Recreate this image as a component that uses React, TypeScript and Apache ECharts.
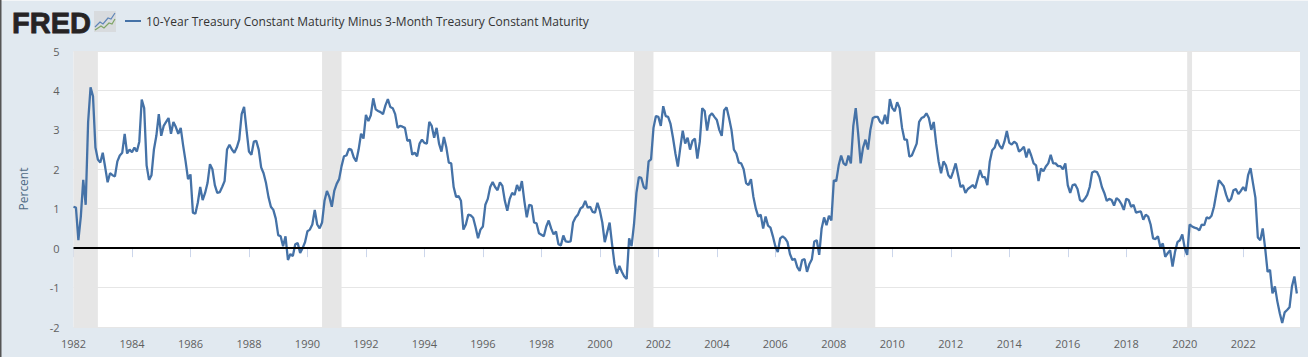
import React, { useEffect, useRef } from "react";
import * as echarts from "echarts";

const seriesName = "10-Year Treasury Constant Maturity Minus 3-Month Treasury Constant Maturity";
const axisName = "Percent";
const firstYear = 1982;

const y1982 = [1.05, 1.03, 0.2, 0.8, 1.73, 1.1, 3.2, 4.08, 3.85, 2.55, 2.25, 2.17];
const y1983 = [2.42, 2.05, 1.67, 1.9, 1.85, 1.82, 2.2, 2.35, 2.42, 2.9, 2.4, 2.5];
const y1984 = [2.43, 2.55, 2.45, 2.7, 3.77, 3.55, 2.1, 1.73, 1.85, 2.5, 2.85, 3.4];
const y1985 = [2.85, 3.1, 3.2, 3.3, 2.9, 3.2, 3.07, 2.9, 3.05, 2.6, 2.2, 1.75];
const y1986 = [1.87, 0.9, 0.87, 1.15, 1.55, 1.22, 1.4, 1.65, 2.13, 2.0, 1.6, 1.4];
const y1987 = [1.42, 1.55, 1.7, 2.5, 2.62, 2.5, 2.42, 2.55, 2.75, 3.4, 3.58, 3.0];
const y1988 = [2.45, 2.37, 2.7, 2.72, 2.5, 2.05, 1.9, 1.65, 1.3, 1.05, 0.97, 0.75];
const y1989 = [0.33, 0.3, 0.05, 0.3, -0.3, -0.15, -0.2, 0.1, 0.13, -0.12, 0.0, 0.15];
const y1990 = [0.43, 0.47, 0.6, 0.97, 0.6, 0.5, 0.65, 1.2, 1.45, 1.3, 1.05, 1.45];
const y1991 = [1.63, 1.75, 2.08, 2.33, 2.35, 2.52, 2.5, 2.3, 2.2, 2.5, 2.9, 2.78];
const y1992 = [3.38, 3.22, 3.37, 3.8, 3.52, 3.48, 3.45, 3.4, 3.62, 3.78, 3.58, 3.55];
const y1993 = [3.4, 3.05, 3.1, 3.08, 3.05, 2.72, 2.75, 2.37, 2.42, 2.33, 2.65, 2.75];
const y1994 = [2.67, 2.65, 3.2, 3.1, 2.8, 3.05, 2.65, 2.45, 2.82, 2.55, 2.17, 2.15];
const y1995 = [1.55, 1.3, 1.32, 1.2, 0.47, 0.6, 0.85, 0.83, 0.77, 0.53, 0.25, 0.47];
const y1996 = [0.55, 1.1, 1.25, 1.55, 1.68, 1.55, 1.47, 1.67, 1.58, 1.2, 0.95, 1.25];
const y1997 = [1.4, 1.35, 1.6, 1.45, 1.7, 1.2, 0.78, 1.1, 1.08, 0.65, 0.63, 0.38];
const y1998 = [0.34, 0.3, 0.55, 0.7, 0.5, 0.35, 0.42, 0.1, 0.07, 0.32, 0.17, 0.16];
const y1999 = [0.17, 0.65, 0.78, 0.85, 1.0, 1.05, 1.2, 1.03, 1.05, 0.92, 0.9, 1.15];
const y2000 = [0.95, 0.65, 0.15, 0.4, 0.65, 0.1, -0.4, -0.65, -0.45, -0.6, -0.72, -0.78];
const y2001 = [0.25, 0.05, 0.6, 1.4, 1.8, 1.78, 1.55, 1.5, 2.2, 2.25, 3.05, 3.35];
const y2002 = [3.33, 3.1, 3.6, 3.35, 3.33, 3.15, 2.8, 2.4, 2.07, 2.55, 2.98, 2.65];
const y2003 = [2.8, 2.5, 2.72, 2.78, 2.27, 2.7, 3.55, 3.48, 2.98, 3.35, 3.42, 3.33];
const y2004 = [3.25, 3.0, 2.85, 3.5, 3.57, 3.3, 3.0, 2.5, 2.4, 2.17, 2.15, 2.0];
const y2005 = [1.65, 1.6, 1.75, 1.3, 1.0, 0.8, 0.85, 0.5, 0.8, 0.57, 0.52, 0.3];
const y2006 = [0.05, -0.1, 0.25, 0.3, 0.25, 0.15, -0.15, -0.3, -0.27, -0.48, -0.58, -0.3];
const y2007 = [-0.28, -0.6, -0.4, -0.28, 0.17, 0.2, -0.17, 0.5, 0.78, 0.58, 0.82, 0.7];
const y2008 = [1.72, 1.7, 2.1, 2.35, 2.15, 2.1, 2.35, 2.15, 3.1, 3.55, 2.9, 2.15];
const y2009 = [2.55, 2.75, 2.5, 3.0, 3.3, 3.33, 3.33, 3.2, 3.15, 3.38, 3.15, 3.78];
const y2010 = [3.55, 3.47, 3.7, 3.55, 3.05, 2.75, 2.75, 2.32, 2.35, 2.5, 2.65, 3.2];
const y2011 = [3.3, 3.33, 3.42, 3.3, 3.0, 3.2, 2.65, 2.2, 1.9, 2.2, 2.1, 1.85];
const y2012 = [1.77, 1.95, 2.15, 1.85, 1.55, 1.6, 1.4, 1.5, 1.55, 1.6, 1.52, 1.75];
const y2013 = [1.98, 1.8, 1.8, 1.6, 2.2, 2.48, 2.55, 2.75, 2.6, 2.52, 2.7, 2.97];
const y2014 = [2.67, 2.63, 2.7, 2.65, 2.45, 2.5, 2.57, 2.3, 2.52, 2.35, 2.15, 2.1];
const y2015 = [1.7, 2.02, 1.95, 2.07, 2.15, 2.37, 2.15, 2.15, 2.08, 2.08, 2.0, 2.15];
const y2016 = [1.6, 1.4, 1.6, 1.62, 1.5, 1.22, 1.18, 1.25, 1.35, 1.55, 1.92, 1.95];
const y2017 = [1.93, 1.8, 1.55, 1.4, 1.2, 1.25, 1.22, 1.08, 1.27, 1.22, 1.12, 0.97];
const y2018 = [1.25, 1.22, 1.05, 1.1, 0.9, 0.92, 0.93, 0.72, 0.85, 0.8, 0.6, 0.25];
const y2019 = [0.23, 0.3, 0.02, 0.12, -0.22, -0.13, -0.05, -0.47, -0.1, 0.15, 0.2, 0.35];
const y2020 = [0.0, -0.17, 0.6, 0.55, 0.52, 0.5, 0.45, 0.6, 0.58, 0.78, 0.75, 0.82];
const y2021 = [1.05, 1.4, 1.72, 1.65, 1.57, 1.35, 1.18, 1.25, 1.47, 1.5, 1.37, 1.45];
const y2022 = [1.55, 1.45, 1.85, 2.03, 1.65, 1.28, 0.27, 0.2, 0.5, 0.0, -0.6, -0.55];
const y2023 = [-1.15, -0.97, -1.35, -1.65, -1.9, -1.63, -1.57, -1.5, -0.97, -0.72, -1.15];

const spreadValues = [
  ...y1982, ...y1983, ...y1984, ...y1985, ...y1986, ...y1987, ...y1988, ...y1989, ...y1990, ...y1991,
  ...y1992, ...y1993, ...y1994, ...y1995, ...y1996, ...y1997, ...y1998, ...y1999, ...y2000, ...y2001,
  ...y2002, ...y2003, ...y2004, ...y2005, ...y2006, ...y2007, ...y2008, ...y2009, ...y2010, ...y2011,
  ...y2012, ...y2013, ...y2014, ...y2015, ...y2016, ...y2017, ...y2018, ...y2019, ...y2020, ...y2021,
  ...y2022, ...y2023,
];

// recession bands as [year, month index] pairs
const recessionStarts = [[1982, 0], [1990, 6], [2001, 2], [2007, 11], [2020, 1]];
const recessionEnds = [[1982, 10], [1991, 2], [2001, 10], [2009, 5], [2020, 3]];

const tickYears = [
  1982, 1984, 1986, 1988, 1990, 1992, 1994, 1996, 1998, 2000, 2002, 2004, 2006, 2008, 2010, 2012, 2014,
  2016, 2018, 2020, 2022,
];

const toMonths = (year: number, month = 0) => (year - firstYear) * 12 + month;
const tickMonths = tickYears.map((y) => toMonths(y));

const textColor = "#5f5f5f";
const font = "'Open Sans', sans-serif";

export default function App() {
  const ref = useRef<HTMLDivElement>(null);
  useEffect(() => {
    const chart = echarts.init(ref.current!, undefined, { renderer: "svg" });
    chart.setOption({
      animation: false,
      backgroundColor: "#e1e9f0",
      textStyle: { fontFamily: font },
      grid: {
        left: 73.5,
        right: 8,
        top: 51,
        bottom: 30,
        show: true,
        backgroundColor: "#ffffff",
        borderWidth: 0,
      },
      legend: {
        left: 120,
        top: 10,
        icon: "rect",
        itemWidth: 16,
        itemHeight: 2,
        itemGap: 0,
        data: [seriesName],
        textStyle: { color: "#333333", fontSize: 12, fontFamily: font },
      },
      xAxis: {
        type: "value",
        min: 0,
        max: 503.3,
        splitLine: { show: false },
        axisLine: { show: true, lineStyle: { color: "#ccd6eb", width: 1 } },
        axisTick: { show: true, length: 9, lineStyle: { color: "#ccd6eb", width: 1 }, customValues: tickMonths },
        axisLabel: {
          customValues: tickMonths,
          color: textColor,
          fontSize: 11,
          fontFamily: font,
          margin: 11,
          formatter: (v: number) => String(firstYear + Math.round(v / 12)),
        },
      },
      yAxis: {
        type: "value",
        min: -2,
        max: 5,
        interval: 1,
        name: axisName,
        nameLocation: "middle",
        nameGap: 44,
        nameTextStyle: { color: "#4f6b85", fontSize: 12, fontFamily: font },
        axisLine: { show: false },
        axisTick: { show: false },
        splitLine: { lineStyle: { color: "#e6e6e6", width: 1 } },
        axisLabel: { color: textColor, fontSize: 11, fontFamily: font, margin: 14 },
      },
      series: [
        {
          name: seriesName,
          type: "line",
          showSymbol: false,
          symbol: "none",
          data: spreadValues.map((v, i) => [i, v]),
          lineStyle: { color: "#4572a7", width: 2.3 },
          itemStyle: { color: "#4572a7" },
          markArea: {
            silent: true,
            itemStyle: { color: "#e6e6e6" },
            data: recessionStarts.map((s, i) => [
              { xAxis: toMonths(s[0], s[1]) },
              { xAxis: toMonths(recessionEnds[i][0], recessionEnds[i][1]) },
            ]),
          },
          markLine: {
            silent: true,
            symbol: "none",
            label: { show: false },
            lineStyle: { color: "#000000", width: 2, type: "solid" },
            data: [{ yAxis: 0 }],
          },
        },
      ],
      graphic: [
        { type: "rect", shape: { x: 0, y: 0, width: 1308, height: 1 }, style: { fill: "#f4f6f8" }, silent: true },
        { type: "rect", shape: { x: 0, y: 0, width: 1.5, height: 357 }, style: { fill: "#555555" }, silent: true },
        {
          type: "text",
          x: 12,
          y: 8,
          style: {
            text: "FRED",
            fontFamily: "'Liberation Sans', sans-serif",
            fontWeight: "bold",
            fontSize: 29,
            fill: "#262324",
            stroke: "#262324",
            lineWidth: 0.8,
          },
          silent: true,
        },
        { type: "rect", shape: { x: 94, y: 11, width: 22, height: 21 }, style: { fill: "#d8dbde" }, silent: true },
        {
          type: "polyline",
          shape: { points: [[95, 27], [100, 22], [103, 24], [108, 18], [111, 19], [115, 13]] },
          style: { stroke: "#5f86b8", fill: "none", lineWidth: 1.2 },
          silent: true,
        },
        {
          type: "polyline",
          shape: { points: [[95, 30], [101, 26], [104, 28], [109, 23], [112, 24], [115, 19]] },
          style: { stroke: "#7fa566", fill: "none", lineWidth: 1.2 },
          silent: true,
        },
      ],
    });
    return () => chart.dispose();
  }, []);
  return <div ref={ref} style={{ position: "absolute", left: 0, top: 0, width: 1308, height: 357 }} />;
}
